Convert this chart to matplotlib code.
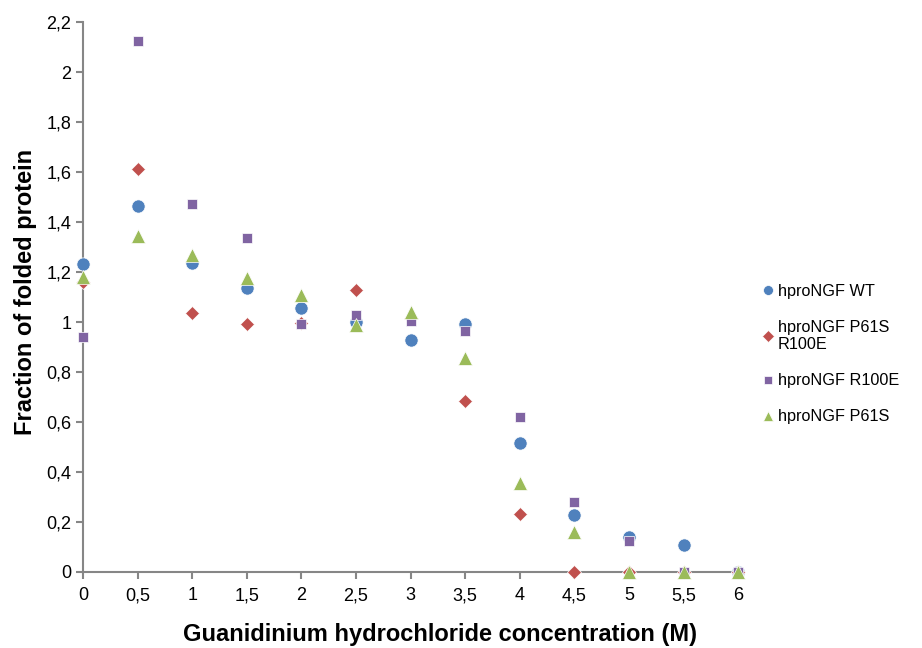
import matplotlib
matplotlib.use("Agg")
import matplotlib.pyplot as plt
from matplotlib.ticker import FuncFormatter, MultipleLocator

plt.rcParams['font.family'] = ['Liberation Sans', 'DejaVu Sans']

conc = [0, 0.5, 1, 1.5, 2, 2.5, 3, 3.5, 4, 4.5, 5, 5.5, 6]
wt = [1.232, 1.464, 1.236, 1.136, 1.056, 1.0, 0.928, 0.992, 0.516, 0.228, 0.14, 0.108, 0.0]
p61s_r100e = [1.16, 1.612, 1.036, 0.994, 0.996, 1.128, 1.016, 0.684, 0.232, 0.0, 0.0, 0.0, 0.0]
r100e = [0.94, 2.124, 1.472, 1.336, 0.992, 1.028, 1.004, 0.964, 0.62, 0.28, 0.124, 0.0, 0.0]
p61s = [1.18, 1.344, 1.268, 1.176, 1.108, 0.99, 1.04, 0.856, 0.356, 0.16, 0.0, 0.0, 0.0]

series = [
    ("hproNGF WT", wt, "o", "#4F81BD", 9.5),
    ("hproNGF P61S\nR100E", p61s_r100e, "D", "#C0504D", 7.5),
    ("hproNGF R100E", r100e, "s", "#8064A2", 7.5),
    ("hproNGF P61S", p61s, "^", "#9BBB59", 10),
]

fig = plt.figure(figsize=(9.22, 6.48), dpi=100)
ax = fig.add_axes([0.09, 0.1173, 0.7106, 0.8487])

handles = []
for label, vals, mk, col, ms in series:
    h, = ax.plot(conc, vals, linestyle="none", marker=mk, color=col,
                 markersize=ms, markeredgecolor="white", markeredgewidth=0.5,
                 label=label, clip_on=False, zorder=3)
    handles.append(h)

ax.set_xlim(0, 6)
ax.set_ylim(0, 2.2)
ax.xaxis.set_major_locator(MultipleLocator(0.5))
ax.yaxis.set_major_locator(MultipleLocator(0.2))

def fmt(v, pos):
    s = ("%.1f" % v).rstrip("0").rstrip(".")
    return s.replace(".", ",")

ax.xaxis.set_major_formatter(FuncFormatter(fmt))
ax.yaxis.set_major_formatter(FuncFormatter(fmt))

for sp in ["top", "right"]:
    ax.spines[sp].set_visible(False)
for sp in ["left", "bottom"]:
    ax.spines[sp].set_color("#868686")
    ax.spines[sp].set_linewidth(1.5)
ax.tick_params(axis="both", colors="#868686", length=5, width=1.5,
               labelcolor="black", labelsize=13, direction="out")
ax.tick_params(axis="x", pad=6)

ax.set_xlabel("Guanidinium hydrochloride concentration (M)", fontsize=17,
              fontweight="bold")
ax.set_ylabel("Fraction of folded protein", fontsize=17, fontweight="bold")
ax.xaxis.set_label_coords(0.545, -0.093)
ax.yaxis.set_label_coords(-0.070, 0.51)

leg = fig.legend(handles=handles, loc="upper left", bbox_to_anchor=(0.812, 0.585),
                 frameon=False, fontsize=11.7, handlelength=0.6, handletextpad=0.3,
                 labelspacing=1.3, markerscale=0.75)

fig.savefig("out.png", dpi=100)
